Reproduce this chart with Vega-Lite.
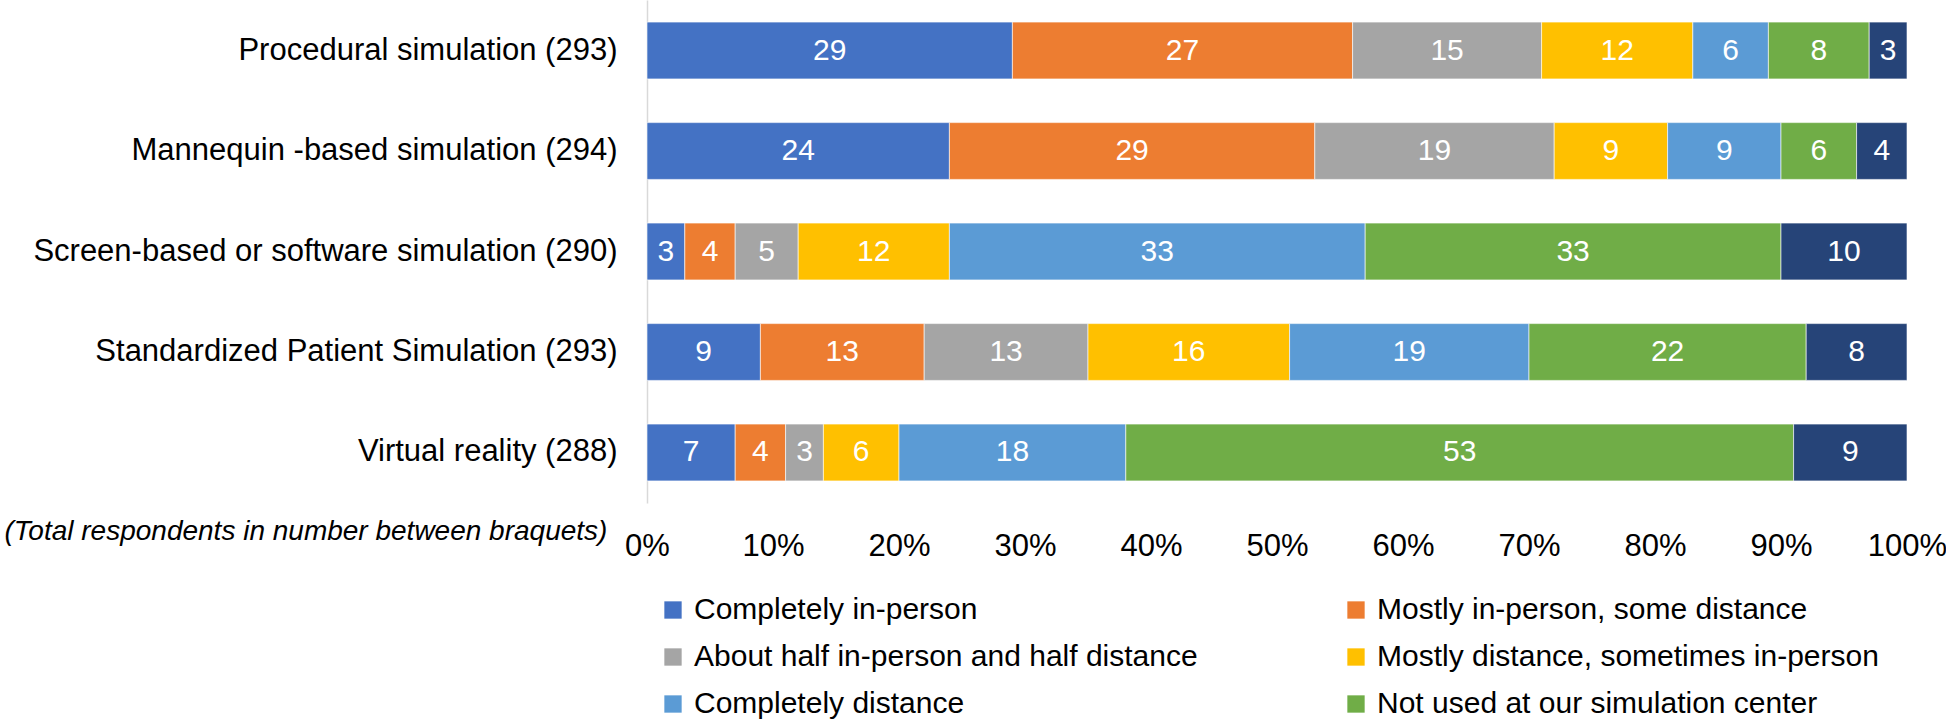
{
  "$schema": "https://vega.github.io/schema/vega-lite/v6.json",
  "width": 1260,
  "height": 503,
  "padding": {"left": 4, "top": 0, "right": 0, "bottom": 0},
  "autosize": {"type": "pad"},
  "config": {"view": {"stroke": null}, "font": "'Liberation Sans'"},
  "data": {"values": [
    {"technique": "Procedural simulation (293)", "category": "Completely in-person", "k": 1, "value": 29},
    {"technique": "Procedural simulation (293)", "category": "Mostly in-person, some distance", "k": 2, "value": 27},
    {"technique": "Procedural simulation (293)", "category": "About half in-person and half distance", "k": 3, "value": 15},
    {"technique": "Procedural simulation (293)", "category": "Mostly distance, sometimes in-person", "k": 4, "value": 12},
    {"technique": "Procedural simulation (293)", "category": "Completely distance", "k": 5, "value": 6},
    {"technique": "Procedural simulation (293)", "category": "Not used at our simulation center", "k": 6, "value": 8},
    {"technique": "Procedural simulation (293)", "category": "Unknown", "k": 7, "value": 3},
    {"technique": "Mannequin -based simulation (294)", "category": "Completely in-person", "k": 1, "value": 24},
    {"technique": "Mannequin -based simulation (294)", "category": "Mostly in-person, some distance", "k": 2, "value": 29},
    {"technique": "Mannequin -based simulation (294)", "category": "About half in-person and half distance", "k": 3, "value": 19},
    {"technique": "Mannequin -based simulation (294)", "category": "Mostly distance, sometimes in-person", "k": 4, "value": 9},
    {"technique": "Mannequin -based simulation (294)", "category": "Completely distance", "k": 5, "value": 9},
    {"technique": "Mannequin -based simulation (294)", "category": "Not used at our simulation center", "k": 6, "value": 6},
    {"technique": "Mannequin -based simulation (294)", "category": "Unknown", "k": 7, "value": 4},
    {"technique": "Screen-based or software simulation (290)", "category": "Completely in-person", "k": 1, "value": 3},
    {"technique": "Screen-based or software simulation (290)", "category": "Mostly in-person, some distance", "k": 2, "value": 4},
    {"technique": "Screen-based or software simulation (290)", "category": "About half in-person and half distance", "k": 3, "value": 5},
    {"technique": "Screen-based or software simulation (290)", "category": "Mostly distance, sometimes in-person", "k": 4, "value": 12},
    {"technique": "Screen-based or software simulation (290)", "category": "Completely distance", "k": 5, "value": 33},
    {"technique": "Screen-based or software simulation (290)", "category": "Not used at our simulation center", "k": 6, "value": 33},
    {"technique": "Screen-based or software simulation (290)", "category": "Unknown", "k": 7, "value": 10},
    {"technique": "Standardized Patient Simulation (293)", "category": "Completely in-person", "k": 1, "value": 9},
    {"technique": "Standardized Patient Simulation (293)", "category": "Mostly in-person, some distance", "k": 2, "value": 13},
    {"technique": "Standardized Patient Simulation (293)", "category": "About half in-person and half distance", "k": 3, "value": 13},
    {"technique": "Standardized Patient Simulation (293)", "category": "Mostly distance, sometimes in-person", "k": 4, "value": 16},
    {"technique": "Standardized Patient Simulation (293)", "category": "Completely distance", "k": 5, "value": 19},
    {"technique": "Standardized Patient Simulation (293)", "category": "Not used at our simulation center", "k": 6, "value": 22},
    {"technique": "Standardized Patient Simulation (293)", "category": "Unknown", "k": 7, "value": 8},
    {"technique": "Virtual reality (288)", "category": "Completely in-person", "k": 1, "value": 7},
    {"technique": "Virtual reality (288)", "category": "Mostly in-person, some distance", "k": 2, "value": 4},
    {"technique": "Virtual reality (288)", "category": "About half in-person and half distance", "k": 3, "value": 3},
    {"technique": "Virtual reality (288)", "category": "Mostly distance, sometimes in-person", "k": 4, "value": 6},
    {"technique": "Virtual reality (288)", "category": "Completely distance", "k": 5, "value": 18},
    {"technique": "Virtual reality (288)", "category": "Not used at our simulation center", "k": 6, "value": 53},
    {"technique": "Virtual reality (288)", "category": "Unknown", "k": 7, "value": 9}
  ]},
  "encoding": {
    "y": {
      "field": "technique", "type": "nominal",
      "sort": ["Procedural simulation (293)", "Mannequin -based simulation (294)", "Screen-based or software simulation (290)", "Standardized Patient Simulation (293)", "Virtual reality (288)"],
      "scale": {"paddingInner": 0.435, "paddingOuter": 0.22},
      "axis": {"title": null, "labelFontSize": 31, "labelColor": "#000000", "labelPadding": 30, "ticks": false, "domainColor": "#D9D9D9", "domainWidth": 1.5, "labelLimit": 700}
    }
  },
  "layer": [
    {
      "mark": {"type": "bar", "stroke": "#ffffff", "strokeWidth": 0.6},
      "encoding": {
        "x": {
          "field": "value", "type": "quantitative", "stack": "zero",
          "scale": {"domain": [0, 100], "nice": false},
          "axis": {
            "values": [0, 10, 20, 30, 40, 50, 60, 70, 80, 90, 100],
            "labelExpr": "datum.value + '%'",
            "labelFlush": false, "labelOverlap": false,
            "grid": false, "domain": false, "ticks": false,
            "labelPadding": 28, "labelFontSize": 31, "labelColor": "#000000",
            "title": "(Total respondents in number between braquets)",
            "titleFontStyle": "italic", "titleFontWeight": "normal", "titleFontSize": 28, "titleColor": "#000000",
            "titleX": -643, "titleY": 28, "titleAlign": "left", "titleBaseline": "middle", "titleAnchor": "start"
          }
        },
        "color": {
          "field": "category", "type": "nominal",
          "scale": {
            "domain": ["Completely in-person", "Mostly in-person, some distance", "About half in-person and half distance", "Mostly distance, sometimes in-person", "Completely distance", "Not used at our simulation center", "Unknown"],
            "range": ["#4472C4", "#ED7D31", "#A5A5A5", "#FFC000", "#5B9BD5", "#70AD47", "#264478"]
          },
          "legend": {
            "orient": "none", "legendX": 11, "legendY": 595, "columns": 2, "title": null,
            "values": ["Completely in-person", "About half in-person and half distance", "Completely distance", "Mostly in-person, some distance", "Mostly distance, sometimes in-person", "Not used at our simulation center"],
            "symbolType": "square", "symbolSize": 300, "symbolStrokeWidth": 0, "symbolOpacity": 1,
            "labelFontSize": 30, "labelColor": "#000000", "labelOffset": 6, "labelLimit": 900,
            "rowPadding": 17, "columnPadding": 143, "padding": 0
          }
        },
        "order": {"field": "k", "type": "quantitative"}
      }
    },
    {
      "mark": {"type": "text", "color": "#ffffff", "fontSize": 30, "align": "center", "baseline": "middle"},
      "encoding": {
        "x": {"field": "value", "type": "quantitative", "stack": "zero", "bandPosition": 0.5},
        "detail": {"field": "category", "type": "nominal"},
        "text": {"field": "value", "type": "quantitative"},
        "order": {"field": "k", "type": "quantitative"}
      }
    }
  ]
}
